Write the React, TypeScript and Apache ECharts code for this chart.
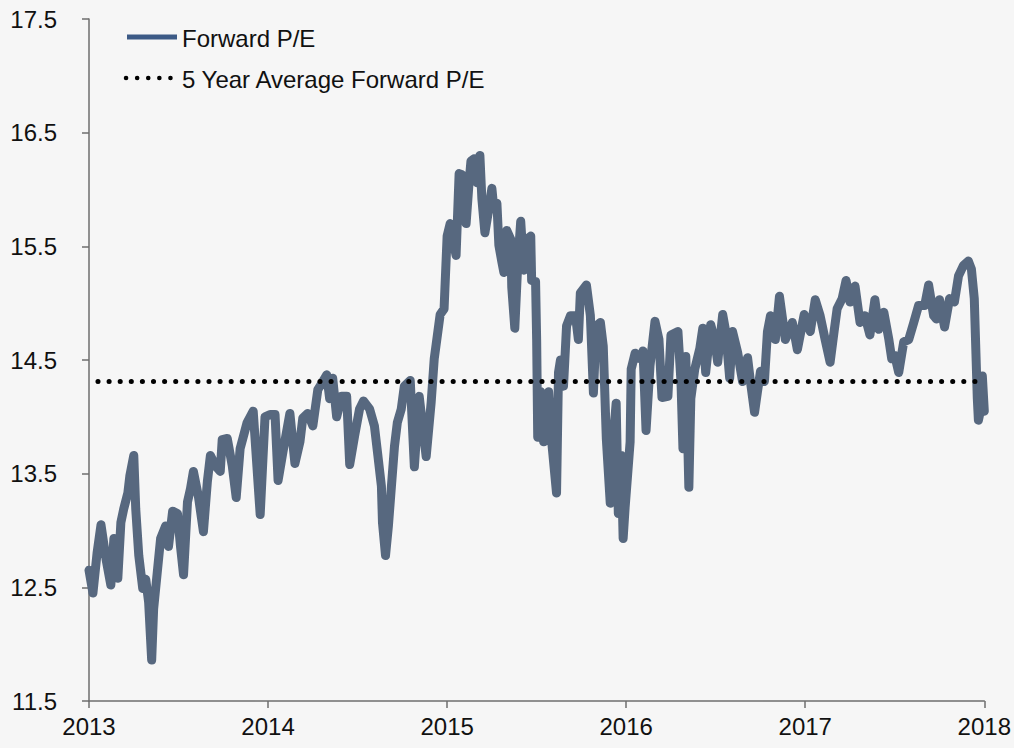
import React, { useEffect, useRef } from "react";
import * as echarts from "echarts";

// Decimal year positions of observations
const years: number[] = [
  2013.000, 2013.022, 2013.045, 2013.067, 2013.095, 2013.122, 2013.139, 2013.161, 2013.178, 2013.194,
  2013.217, 2013.228, 2013.250, 2013.261, 2013.278, 2013.300, 2013.317, 2013.333, 2013.350, 2013.361,
  2013.383, 2013.400, 2013.428, 2013.444, 2013.467, 2013.494, 2013.511, 2013.528, 2013.550, 2013.567,
  2013.583, 2013.611, 2013.639, 2013.661, 2013.678, 2013.706, 2013.733, 2013.744, 2013.772, 2013.800,
  2013.822, 2013.844, 2013.883, 2013.917, 2013.956, 2013.983, 2014.011, 2014.039, 2014.056, 2014.083,
  2014.122, 2014.150, 2014.178, 2014.194, 2014.222, 2014.250, 2014.278, 2014.306, 2014.328, 2014.344,
  2014.361, 2014.383, 2014.411, 2014.439, 2014.456, 2014.483, 2014.511, 2014.533, 2014.567, 2014.594,
  2014.611, 2014.633, 2014.639, 2014.656, 2014.672, 2014.689, 2014.706, 2014.722, 2014.744, 2014.761,
  2014.794, 2014.817, 2014.844, 2014.883, 2014.911, 2014.928, 2014.961, 2014.983, 2015.000, 2015.017,
  2015.028, 2015.050, 2015.067, 2015.083, 2015.106, 2015.122, 2015.133, 2015.150, 2015.167, 2015.183,
  2015.194, 2015.211, 2015.233, 2015.250, 2015.261, 2015.278, 2015.289, 2015.306, 2015.317, 2015.333,
  2015.356, 2015.361, 2015.378, 2015.394, 2015.411, 2015.428, 2015.444, 2015.467, 2015.472, 2015.494,
  2015.500, 2015.506, 2015.522, 2015.539, 2015.567, 2015.583, 2015.611, 2015.622, 2015.633, 2015.650,
  2015.667, 2015.689, 2015.717, 2015.733, 2015.744, 2015.778, 2015.800, 2015.817, 2015.833, 2015.856,
  2015.872, 2015.889, 2015.911, 2015.928, 2015.944, 2015.956, 2015.972, 2015.983, 2015.994, 2016.022,
  2016.028, 2016.050, 2016.078, 2016.094, 2016.111, 2016.133, 2016.161, 2016.183, 2016.200, 2016.233,
  2016.250, 2016.289, 2016.306, 2016.317, 2016.333, 2016.350, 2016.361, 2016.383, 2016.411, 2016.428,
  2016.444, 2016.472, 2016.494, 2016.511, 2016.539, 2016.556, 2016.578, 2016.594, 2016.622, 2016.650,
  2016.678, 2016.694, 2016.717, 2016.733, 2016.750, 2016.772, 2016.789, 2016.806, 2016.833, 2016.856,
  2016.889, 2016.928, 2016.956, 2016.994, 2017.028, 2017.056, 2017.083, 2017.111, 2017.139, 2017.161,
  2017.178, 2017.206, 2017.228, 2017.250, 2017.278, 2017.306, 2017.333, 2017.361, 2017.389, 2017.411,
  2017.439, 2017.467, 2017.483, 2017.500, 2017.522, 2017.550, 2017.578, 2017.606, 2017.633, 2017.667,
  2017.689, 2017.717, 2017.733, 2017.750, 2017.778, 2017.806, 2017.833, 2017.856, 2017.883, 2017.911,
  2017.928, 2017.944, 2017.961, 2017.967, 2017.978, 2017.989, 2018.000,
];

// Forward P/E values
const forwardPE: number[] = [
  12.65, 12.45, 12.80, 13.05, 12.75, 12.52, 12.93, 12.58, 13.07, 13.19,
  13.33, 13.48, 13.66, 13.19, 12.78, 12.49, 12.57, 12.37, 11.86, 12.31,
  12.66, 12.93, 13.04, 12.86, 13.17, 13.15, 12.86, 12.61, 13.25, 13.37,
  13.52, 13.30, 12.99, 13.43, 13.66, 13.57, 13.52, 13.80, 13.81, 13.57,
  13.29, 13.72, 13.95, 14.05, 13.14, 14.00, 14.02, 14.02, 13.44, 13.69,
  14.03, 13.59, 13.78, 13.99, 14.03, 13.92, 14.24, 14.31, 14.37, 14.16,
  14.34, 14.00, 14.18, 14.18, 13.58, 13.83, 14.07, 14.14, 14.07, 13.92,
  13.69, 13.39, 13.07, 12.78, 13.04, 13.39, 13.74, 13.95, 14.07, 14.27,
  14.32, 13.56, 14.18, 13.65, 14.13, 14.51, 14.90, 14.95, 15.59, 15.70,
  15.59, 15.42, 16.14, 16.13, 15.70, 16.05, 16.25, 16.27, 16.06, 16.30,
  15.92, 15.62, 15.83, 16.01, 15.83, 15.88, 15.51, 15.36, 15.27, 15.64,
  15.56, 15.14, 14.78, 15.33, 15.72, 15.29, 15.56, 15.59, 15.20, 15.19,
  14.68, 13.82, 14.22, 13.78, 14.22, 13.80, 13.33, 14.39, 14.50, 14.27,
  14.80, 14.89, 14.89, 14.68, 15.09, 15.16, 14.89, 14.21, 14.80, 14.83,
  14.62, 13.81, 13.24, 13.81, 14.12, 13.15, 13.66, 12.93, 13.20, 13.78,
  14.42, 14.56, 14.51, 14.58, 13.88, 14.45, 14.84, 14.68, 14.17, 14.18,
  14.72, 14.75, 14.31, 13.72, 14.53, 13.38, 14.16, 14.42, 14.60, 14.78,
  14.39, 14.81, 14.68, 14.48, 14.90, 14.75, 14.34, 14.75, 14.57, 14.31,
  14.52, 14.31, 14.04, 14.22, 14.40, 14.31, 14.75, 14.89, 14.68, 15.06,
  14.68, 14.83, 14.59, 14.90, 14.75, 15.03, 14.89, 14.68, 14.48, 14.75,
  14.95, 15.04, 15.20, 15.01, 15.15, 14.83, 14.89, 14.72, 15.03, 14.77,
  14.92, 14.68, 14.51, 14.54, 14.39, 14.66, 14.68, 14.83, 14.98, 14.98,
  15.16, 14.89, 14.86, 15.03, 14.79, 15.04, 15.01, 15.24, 15.33, 15.37,
  15.30, 15.04, 14.16, 13.97, 14.05, 14.36, 14.05,
];

// 5 year average forward P/E, drawn across the period
const averageSpan: number[] = [2013.05, 2017.985];
const averagePE = 14.31;

const yTicks = { min: 11.5, max: 17.5, step: 1 };
const xTicks = { min: 2013, max: 2018, step: 1 };

const seriesNames = ["Forward P/E", "5 Year Average Forward P/E"];

export default function App() {
  const ref = useRef<HTMLDivElement>(null);

  useEffect(() => {
    document.body.style.margin = "0";
    document.body.style.background = "#f6f6f6";
    if (!ref.current) return;
    const chart = echarts.init(ref.current, null, { renderer: "svg" });
    const font = "'Liberation Sans', Arial, sans-serif";
    const axisColor = "#6e6e6e";

    chart.setOption({
      animation: false,
      backgroundColor: "#f6f6f6",
      grid: { left: 89, right: 26, top: 19, bottom: 47, containLabel: false },
      xAxis: {
        type: "value",
        min: xTicks.min,
        max: xTicks.max,
        interval: xTicks.step,
        axisLine: { show: true, lineStyle: { color: axisColor, width: 1.5 } },
        axisTick: { show: true, length: 7, lineStyle: { color: axisColor, width: 1.5 } },
        splitLine: { show: false },
        axisLabel: {
          color: "#111",
          fontSize: 24,
          fontFamily: font,
          margin: 13,
          formatter: (v: number) => String(Math.round(v)),
        },
      },
      yAxis: {
        type: "value",
        min: yTicks.min,
        max: yTicks.max,
        interval: yTicks.step,
        axisLine: { show: true, lineStyle: { color: axisColor, width: 1.5 } },
        axisTick: { show: true, length: 7, lineStyle: { color: axisColor, width: 1.5 } },
        splitLine: { show: false },
        axisLabel: {
          color: "#111",
          fontSize: 24,
          fontFamily: font,
          margin: 32,
          formatter: (v: number) => v.toFixed(1),
        },
      },
      series: [
        {
          name: seriesNames[0],
          type: "line",
          data: years.map((y, i) => [y, forwardPE[i]]),
          showSymbol: false,
          symbol: "none",
          lineStyle: { color: "#57687f", width: 9, cap: "round", join: "round" },
          z: 2,
        },
        {
          name: seriesNames[1],
          type: "line",
          data: averageSpan.map((y) => [y, averagePE]),
          showSymbol: false,
          symbol: "none",
          lineStyle: { color: "#000", width: 5, type: [0.1, 11], cap: "round" },
          z: 3,
        },
      ],
      graphic: [
        {
          type: "line",
          shape: { x1: 127, y1: 37, x2: 177, y2: 37 },
          style: { stroke: "#3c5a86", lineWidth: 5 },
        },
        {
          type: "text",
          x: 182,
          y: 38,
          style: { text: seriesNames[0], fill: "#111", fontSize: 24, fontFamily: font, verticalAlign: "middle" },
        },
        {
          type: "line",
          shape: { x1: 126, y1: 78, x2: 172, y2: 78 },
          style: { stroke: "#000", lineWidth: 4.5, lineDash: [0.1, 11], lineCap: "round" },
        },
        {
          type: "text",
          x: 182,
          y: 79,
          style: { text: seriesNames[1], fill: "#111", fontSize: 24, fontFamily: font, verticalAlign: "middle" },
        },
      ],
    });

    return () => chart.dispose();
  }, []);

  return <div ref={ref} style={{ width: 1014, height: 748, background: "#f6f6f6" }} />;
}
